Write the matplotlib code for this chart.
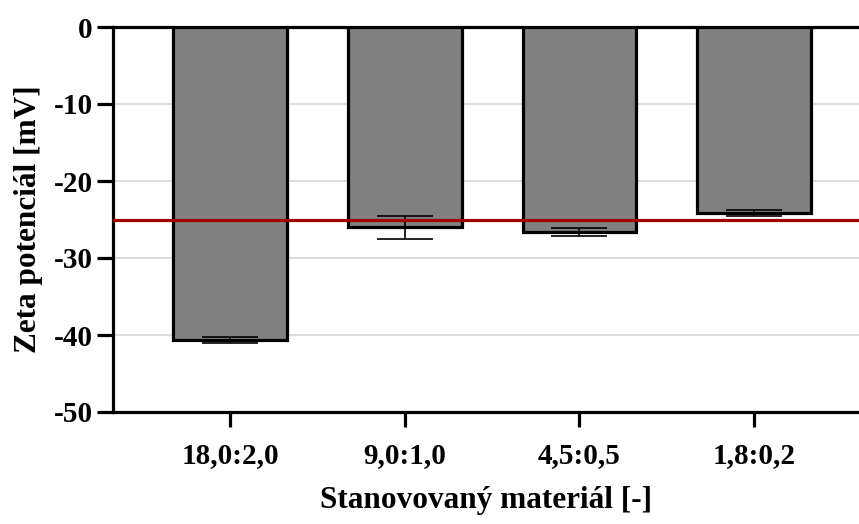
import matplotlib
matplotlib.use("Agg")
import matplotlib.pyplot as plt
import numpy as np

categories = ["18,0:2,0", "9,0:1,0", "4,5:0,5", "1,8:0,2"]
values = [-40.6, -26.0, -26.6, -24.2]
errors = [0.4, 1.5, 0.5, 0.4]
reference_level = -25.0
yticks = [0, -10, -20, -30, -40, -50]

plt.rcParams['font.family'] = ['Liberation Serif', 'DejaVu Serif']
plt.rcParams['font.weight'] = 'bold'

fig = plt.figure(figsize=(8.59, 5.24), dpi=100)
ax = fig.add_axes([113/859, 1-412/524, 1-113/859, (412-27)/524])

x = np.arange(len(categories))
ax.bar(x, values, width=0.65, color='#808080', edgecolor='black', linewidth=2.3, zorder=3)
ax.errorbar(x, values, yerr=errors, fmt='none', ecolor='black', elinewidth=1.2,
            capsize=20, capthick=1.2, zorder=4)
ax.axhline(reference_level, color='#a30000', linewidth=2.3, zorder=5)

ax.set_xlim(-0.67, 3.6)
ax.set_ylim(-50, 0)
ax.set_yticks(yticks)
ax.set_yticklabels([str(t) for t in yticks])
ax.set_xticks(x)
ax.set_xticklabels(categories)
ax.yaxis.grid(True, color='#d9d9d9', linewidth=1.3, zorder=0)
ax.set_axisbelow(True)

for s in ['left', 'top', 'bottom']:
    ax.spines[s].set_linewidth(2.3)
ax.spines['right'].set_visible(False)
ax.tick_params(axis='y', length=11.5, width=2.3, labelsize=21, pad=3)
ax.tick_params(axis='x', length=10.5, width=2.3, labelsize=21, pad=11)
for lab in ax.get_xticklabels() + ax.get_yticklabels():
    lab.set_fontweight('bold')

ax.set_ylabel("Zeta potenciál [mV]", fontsize=22.5, fontweight='bold', labelpad=8)
ax.set_xlabel("Stanovovaný materiál [-]", fontsize=22.5, fontweight='bold', labelpad=12)

fig.savefig("out.png", dpi=100)
